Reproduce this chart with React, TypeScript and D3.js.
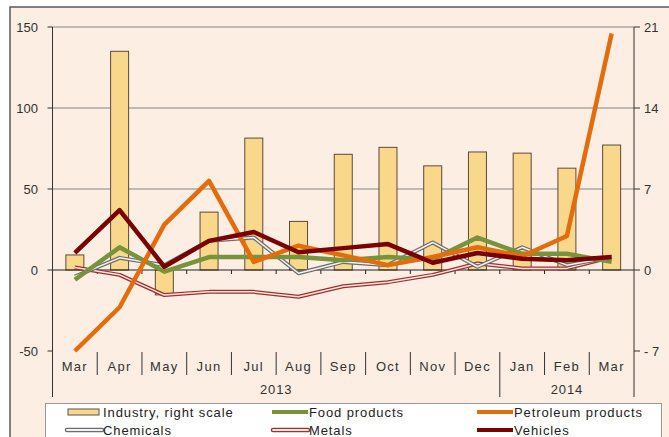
import React from "react";
import * as d3 from "d3";

const months = ["Mar", "Apr", "May", "Jun", "Jul", "Aug", "Sep", "Oct", "Nov", "Dec", "Jan", "Feb", "Mar"];
const years = [
  { label: "2013", from: 0, to: 10 },
  { label: "2014", from: 10, to: 13 },
];
const industry = [1.3, 18.9, -2.15, 5.0, 11.4, 4.2, 10.0, 10.6, 9.0, 10.2, 10.1, 8.8, 10.8];
const food = [-6, 14, -1, 8, 8, 8, 6, 8, 6.5, 20, 10, 10, 5];
const petroleum = [-50, -23, 28, 55, 5, 15, 9, 3, 8, 14, 8.5, 21, 146];
const chemicals = [-4, 7.5, 3, 18, 20, -2, 5, 3, 17, 2, 14, 3, 8];
const metals = [1.5, -3, -15.5, -13.5, -13.5, -16.5, -10, -7.5, -3, 4, 1, 1, 8];
const vehicles = [10.5, 37, 2, 18, 23.5, 11, 13.5, 16, 4.5, 10.5, 7, 6, 8];
const leftTicks = [150, 100, 50, 0, -50];
const rightTicks = [21, 14, 7, 0, -7];

const W = 669;
const H = 437;
const FONT = "'Liberation Sans', Arial, sans-serif";

export default function App() {
  const x = d3
    .scaleBand<number>()
    .domain(months.map((_, i) => i))
    .range([52.5, 634]);
  const yL = d3.scaleLinear().domain([-50, 150]).range([351, 27]);
  const yR = d3.scaleLinear().domain([-7, 21]).range([351, 27]);
  const bw = x.bandwidth();
  const cx = (i: number) => (x(i) as number) + bw / 2;
  const line = d3
    .line<number>()
    .x((_, i) => cx(i))
    .y((d) => yL(d));

  const barW = 18;
  const left = 52.5;
  const right = 634;

  const legendItems = [
    { label: "Industry, right scale", kind: "bar", x: 68, y: 412 },
    { label: "Food products", kind: "food", x: 272, y: 412 },
    { label: "Petroleum products", kind: "pet", x: 477, y: 412 },
    { label: "Chemicals", kind: "chem", x: 66, y: 430 },
    { label: "Metals", kind: "met", x: 272, y: 430 },
    { label: "Vehicles", kind: "veh", x: 477, y: 430 },
  ];

  const legendSwatch = (kind: string, lx: number, ly: number) => {
    const x2 = lx + 36;
    if (kind === "bar")
      return <rect x={lx} y={ly - 3} width={31} height={6} fill="#F9D88B" stroke="#555" strokeWidth={1} />;
    if (kind === "food") return <line x1={lx} x2={x2} y1={ly} y2={ly} stroke="#77933C" strokeWidth={4} />;
    if (kind === "pet") return <line x1={lx} x2={x2} y1={ly} y2={ly} stroke="#E46C0A" strokeWidth={4} />;
    if (kind === "veh") return <line x1={lx} x2={x2} y1={ly} y2={ly} stroke="#7A0000" strokeWidth={4} />;
    if (kind === "chem")
      return (
        <g>
          <line x1={lx + 1} x2={lx + 36} y1={ly} y2={ly} stroke="#6d6d6d" strokeWidth={4.5} strokeLinecap="round" />
          <line x1={lx + 1} x2={lx + 36} y1={ly} y2={ly} stroke="#f2f2f2" strokeWidth={1.8} strokeLinecap="round" />
        </g>
      );
    return (
      <g>
        <line x1={lx + 1} x2={x2} y1={ly} y2={ly} stroke="#A0302E" strokeWidth={4.5} strokeLinecap="round" />
        <line x1={lx + 1} x2={x2} y1={ly} y2={ly} stroke="#F8E4E0" strokeWidth={1.8} strokeLinecap="round" />
      </g>
    );
  };

  return (
    <svg
      width={W}
      height={H}
      style={{ position: "absolute", left: 0, top: 0, fontFamily: FONT }}
    >
      <rect x={0} y={0} width={W} height={H} fill="#ffffff" />
      <rect x={10} y={7} width={W + 20} height={H + 20} fill="#FCEEE2" stroke="#5a5a5a" strokeWidth={1.5} />

      {/* gridlines */}
      {[150, 100, 50].map((v) => (
        <line key={v} x1={left} x2={right} y1={yL(v)} y2={yL(v)} stroke="#858585" strokeWidth={1} />
      ))}

      {/* bars */}
      {industry.map((v, i) => (
        <rect
          key={i}
          x={cx(i) - barW / 2}
          y={Math.min(yR(v), yR(0))}
          width={barW}
          height={Math.abs(yR(v) - yR(0))}
          fill="#F9D88B"
          stroke="#5a4a3a"
          strokeWidth={1}
        />
      ))}

      {/* zero line */}
      <line x1={left} x2={right} y1={yL(0)} y2={yL(0)} stroke="#222" strokeWidth={1.2} />
      {months.slice(1).map((_, i) => (
        <line key={i} x1={x(i + 1) as number} x2={x(i + 1) as number} y1={yL(0)} y2={yL(0) + 4} stroke="#222" strokeWidth={1} />
      ))}

      {/* lines */}
      <path d={line(metals) || ""} fill="none" stroke="#A0302E" strokeWidth={4} strokeLinejoin="round" />
      <path d={line(metals) || ""} fill="none" stroke="#F8E4E0" strokeWidth={1.5} strokeLinejoin="round" />
      <path d={line(chemicals) || ""} fill="none" stroke="#6d6d6d" strokeWidth={4} strokeLinejoin="round" />
      <path d={line(chemicals) || ""} fill="none" stroke="#f2f2f2" strokeWidth={1.5} strokeLinejoin="round" />
      <path d={line(food) || ""} fill="none" stroke="#77933C" strokeWidth={4.5} strokeLinejoin="round" />
      <path d={line(petroleum) || ""} fill="none" stroke="#E46C0A" strokeWidth={4.5} strokeLinejoin="round" />
      <path d={line(vehicles) || ""} fill="none" stroke="#7A0000" strokeWidth={4.5} strokeLinejoin="round" />

      {/* left axis */}
      <line x1={left} x2={left} y1={27} y2={397} stroke="#333" strokeWidth={1} />
      {leftTicks.map((v) => (
        <g key={v}>
          <line x1={left - 5} x2={left} y1={yL(v)} y2={yL(v)} stroke="#333" />
          <text x={38} y={yL(v) + 4.5} textAnchor="end" fontSize={13} fill="#333">
            {v}
          </text>
        </g>
      ))}

      {/* right axis */}
      <line x1={right} x2={right} y1={27} y2={397} stroke="#333" strokeWidth={1} />
      {rightTicks.map((v) => (
        <g key={v}>
          <line x1={right} x2={right + 6} y1={yR(v)} y2={yR(v)} stroke="#333" />
          <text x={644} y={yR(v) + 4.5} textAnchor="start" fontSize={13} fill="#333">
            {v < 0 ? "- " + Math.abs(v) : v}
          </text>
        </g>
      ))}

      {/* category axis */}
      {months.slice(1).map((_, i) => {
        const xx = x(i + 1) as number;
        const isYear = i + 1 === 10;
        return <line key={i} x1={xx} x2={xx} y1={352} y2={isYear ? 397 : 375} stroke="#333" strokeWidth={1} />;
      })}
      {months.map((m, i) => (
        <text key={i} x={cx(i)} y={371} textAnchor="middle" fontSize={13} letterSpacing={1.3} fill="#333">
          {m}
        </text>
      ))}
      {years.map((yy) => {
        const x0 = yy.from === 0 ? left : (x(yy.from) as number);
        const x1 = yy.to >= months.length ? right : (x(yy.to) as number);
        return (
          <text key={yy.label} x={(x0 + x1) / 2} y={394} textAnchor="middle" fontSize={13} letterSpacing={0.8} fill="#333">
            {yy.label}
          </text>
        );
      })}

      {/* legend */}
      <rect x={45.5} y={403.5} width={616} height={50} fill="#ffffff" stroke="#999" strokeWidth={1} />
      {legendItems.map((it) => (
        <g key={it.label}>
          {legendSwatch(it.kind, it.x, it.y)}
          <text
            x={it.kind === "bar" || it.kind === "chem" ? 103 : it.x + 37}
            y={it.y + 4.5}
            fontSize={13}
            letterSpacing={0.9}
            fill="#222"
          >
            {it.label}
          </text>
        </g>
      ))}
    </svg>
  );
}
